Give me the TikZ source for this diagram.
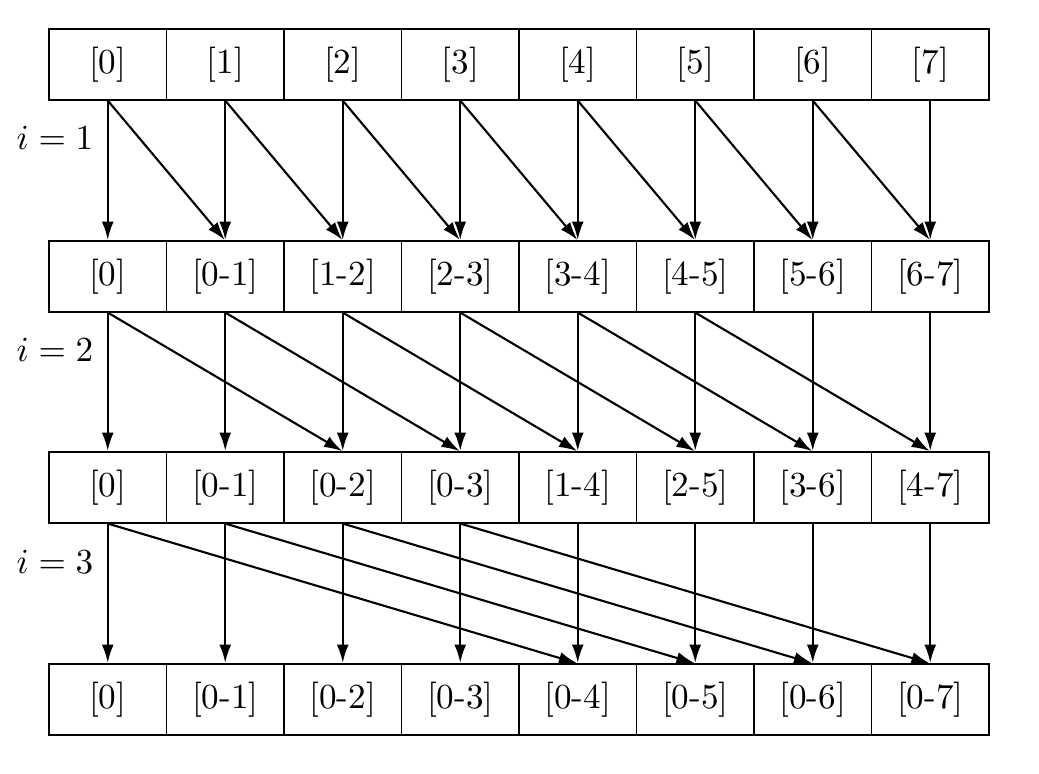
\documentclass[tikz,border=0pt]{standalone}
\usepackage{graphicx}
\usetikzlibrary{arrows.meta}
\newcommand{\bigtxt}[1]{\scalebox{2.5}{#1}}
\begin{document}
\begin{tikzpicture}[x=0.025cm,y=-0.025cm,
  cell/.style={draw,line width=0.8pt,minimum width=117.5*0.025cm,minimum height=71*0.025cm,inner sep=0pt},
  arr/.style={line width=1.5pt,-{Latex[length=13pt,width=8.5pt]},shorten >=0.4pt},
  lbl/.style={inner sep=0pt}]
\useasboundingbox (0,0) rectangle (1039,774);
\foreach \r/\top/\labs in {0/29/{[0],[1],[2],[3],[4],[5],[6],[7]},
                           1/241/{[0],[0-1],[1-2],[2-3],[3-4],[4-5],[5-6],[6-7]},
                           2/452/{[0],[0-1],[0-2],[0-3],[1-4],[2-5],[3-6],[4-7]},
                           3/664/{[0],[0-1],[0-2],[0-3],[0-4],[0-5],[0-6],[0-7]}}{
  \foreach \t [count=\c from 0] in \labs {
    \node[cell] (r\r c\c) at ({107.75+117.5*\c},{\top+35.5}) {\bigtxt{\t}};
  }
}
\node[lbl] (l1) at (55,138) {\bigtxt{$i=1$}};
\node[lbl] (l2) at (55,350) {\bigtxt{$i=2$}};
\node[lbl] (l3) at (55,562) {\bigtxt{$i=3$}};
\foreach \r/\n/\s in {0/1/1,1/2/2,2/3/4}{
  \foreach \c in {0,...,7}{
    \draw[arr] (r\r c\c.south) -- (r\n c\c.north);
    \pgfmathtruncatemacro{\d}{\c+\s}
    \ifnum\d<8
      \draw[arr] (r\r c\c.south) -- (r\n c\d.north);
    \fi
  }
}
\end{tikzpicture}
\end{document}
